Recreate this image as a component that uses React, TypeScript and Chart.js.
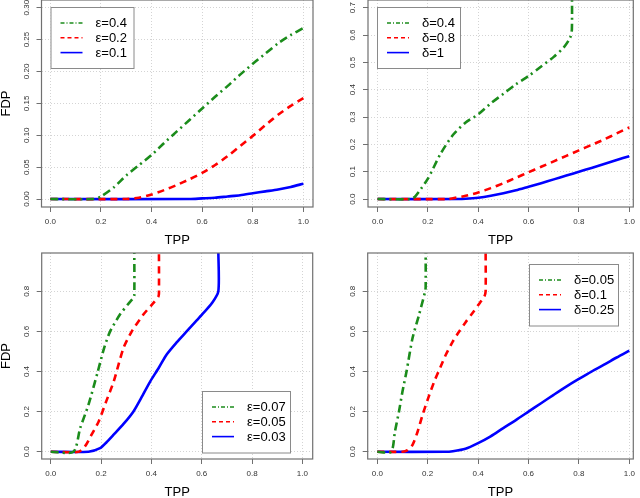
import { useEffect, useRef } from 'react'
import { Chart, registerables } from 'chart.js'
Chart.register(...registerables)

const GREEN = '#1b8c1b'
const RED = '#ff0000'
const BLUE = '#0000ff'
const COLORS = [GREEN, RED, BLUE]
const DASHES = [[8, 4, 2, 4], [7, 5], []]
const KEY_DASHES = [[4, 2, 1, 2], [4, 3], []]
const FONT = '"Liberation Sans", Arial, Helvetica, sans-serif'

const X_TICKS = [0, 0.2, 0.4, 0.6, 0.8, 1.0]
const X_TICK_LABELS = ['0.0', '0.2', '0.4', '0.6', '0.8', '1.0']

// panel 1: varying epsilon
const P1_Y_TICKS = [0, 0.05, 0.1, 0.15, 0.2, 0.25, 0.3]
const P1_Y_LABELS = ['0.00', '0.05', '0.10', '0.15', '0.20', '0.25', '0.30']
const P1_NAMES = ['ε=0.4', 'ε=0.2', 'ε=0.1']
const P1_A_X = [0, 0.17, 0.2, 0.25, 0.3, 0.35, 0.4, 0.45, 0.5, 0.55, 0.6, 0.65, 0.7, 0.75, 0.8, 0.85, 0.9, 0.95, 1.0]
const P1_A_Y = [0, 0, 0.004, 0.018, 0.037, 0.053, 0.069, 0.088, 0.106, 0.124, 0.142, 0.16, 0.177, 0.195, 0.212, 0.228, 0.244, 0.257, 0.268]
const P1_B_X = [0, 0.3, 0.35, 0.4, 0.45, 0.5, 0.55, 0.6, 0.65, 0.7, 0.75, 0.8, 0.85, 0.9, 0.95, 1.0]
const P1_B_Y = [0, 0, 0.002, 0.007, 0.014, 0.022, 0.031, 0.041, 0.053, 0.067, 0.083, 0.099, 0.116, 0.132, 0.146, 0.158]
const P1_C_X = [0, 0.55, 0.6, 0.65, 0.7, 0.75, 0.8, 0.85, 0.9, 0.95, 1.0]
const P1_C_Y = [0, 0, 0.001, 0.002, 0.004, 0.006, 0.009, 0.012, 0.015, 0.019, 0.024]

// panel 2: varying delta
const P2_Y_TICKS = [0, 0.1, 0.2, 0.3, 0.4, 0.5, 0.6, 0.7]
const P2_Y_LABELS = ['0.0', '0.1', '0.2', '0.3', '0.4', '0.5', '0.6', '0.7']
const P2_NAMES = ['δ=0.4', 'δ=0.8', 'δ=1']
const P2_A_X = [0, 0.13, 0.15, 0.2, 0.25, 0.3, 0.35, 0.4, 0.45, 0.5, 0.55, 0.6, 0.65, 0.7, 0.74, 0.765, 0.772, 0.772]
const P2_A_Y = [0, 0, 0.01, 0.075, 0.165, 0.235, 0.28, 0.31, 0.35, 0.385, 0.42, 0.45, 0.485, 0.52, 0.555, 0.59, 0.62, 0.8]
const P2_B_X = [0, 0.28, 0.3, 0.35, 0.4, 0.45, 0.5, 0.55, 0.6, 0.65, 0.7, 0.75, 0.8, 0.85, 0.9, 0.95, 1.0]
const P2_B_Y = [0, 0, 0.003, 0.012, 0.024, 0.04, 0.058, 0.078, 0.098, 0.118, 0.138, 0.158, 0.178, 0.198, 0.218, 0.24, 0.262]
const P2_C_X = [0, 0.32, 0.35, 0.4, 0.45, 0.5, 0.55, 0.6, 0.65, 0.7, 0.75, 0.8, 0.85, 0.9, 0.95, 1.0]
const P2_C_Y = [0, 0, 0.001, 0.005, 0.012, 0.021, 0.032, 0.045, 0.058, 0.072, 0.086, 0.1, 0.114, 0.128, 0.143, 0.157]

// panel 3: small epsilon
const P34_Y_TICKS = [0, 0.2, 0.4, 0.6, 0.8]
const P34_Y_LABELS = ['0.0', '0.2', '0.4', '0.6', '0.8']
const P3_NAMES = ['ε=0.07', 'ε=0.05', 'ε=0.03']
const P3_A_X = [0, 0.09, 0.117, 0.15, 0.187, 0.212, 0.236, 0.275, 0.31, 0.328, 0.332, 0.332]
const P3_A_Y = [0, 0, 0.118, 0.235, 0.4, 0.517, 0.6, 0.684, 0.74, 0.767, 0.78, 1.0]
const P3_B_X = [0, 0.11, 0.136, 0.16, 0.19, 0.22, 0.25, 0.289, 0.322, 0.368, 0.41, 0.428, 0.43, 0.43]
const P3_B_Y = [0, 0, 0.027, 0.08, 0.15, 0.25, 0.35, 0.517, 0.6, 0.684, 0.745, 0.775, 0.79, 1.0]
const P3_C_X = [0, 0.15, 0.196, 0.22, 0.25, 0.29, 0.328, 0.36, 0.395, 0.43, 0.46, 0.5, 0.54, 0.58, 0.607, 0.64, 0.666, 0.666]
const P3_C_Y = [0, 0, 0.018, 0.045, 0.085, 0.14, 0.2, 0.27, 0.35, 0.42, 0.484, 0.545, 0.6, 0.655, 0.692, 0.74, 0.8, 1.0]

// panel 4: small delta
const P4_NAMES = ['δ=0.05', 'δ=0.1', 'δ=0.25']
const P4_A_X = [0, 0.055, 0.07, 0.086, 0.1, 0.116, 0.14, 0.166, 0.19, 0.192, 0.192]
const P4_A_Y = [0, 0, 0.1, 0.2, 0.3, 0.4, 0.567, 0.684, 0.8, 0.82, 1.0]
const P4_B_X = [0, 0.1, 0.12, 0.14, 0.16, 0.18, 0.2, 0.226, 0.25, 0.272, 0.3, 0.325, 0.35, 0.378, 0.4, 0.425, 0.43, 0.43]
const P4_B_Y = [0, 0, 0.008, 0.035, 0.1, 0.185, 0.26, 0.35, 0.42, 0.484, 0.55, 0.6, 0.645, 0.692, 0.73, 0.775, 0.8, 1.0]
const P4_C_X = [0, 0.27, 0.3, 0.35, 0.4, 0.45, 0.5, 0.55, 0.6, 0.65, 0.7, 0.75, 0.8, 0.85, 0.9, 0.95, 1.0]
const P4_C_Y = [0, 0, 0.003, 0.015, 0.043, 0.077, 0.118, 0.158, 0.2, 0.242, 0.284, 0.325, 0.363, 0.4, 0.434, 0.47, 0.504]

interface Box { x: number; y: number; w: number; h: number }
interface PanelProps {
    left: number; top: number
    area: { l: number; t: number; r: number; b: number }
    xRange: [number, number]
    yRange: [number, number]
    yTicks: number[]
    yLabels: string[]
    names: string[]
    xs: number[][]
    ys: number[][]
    legend: Box
    yTitle?: boolean
}

const W = 320, H = 249

const rFrame = {
    id: 'rFrame',
    afterDatasetsDraw(chart: any, _a: any, opts: any) {
        const { ctx, chartArea: a, scales } = chart
        ctx.save()
        ctx.strokeStyle = '#707070'
        ctx.lineWidth = 1.2
        ctx.setLineDash([])
        ctx.strokeRect(a.left, a.top, a.right - a.left, a.bottom - a.top)

        ctx.fillStyle = '#333'
        ctx.font = `8px ${FONT}`
        ctx.textAlign = 'center'
        ctx.textBaseline = 'middle'
        scales.x.ticks.forEach((t: any, i: number) => {
            ctx.fillText(X_TICK_LABELS[i], scales.x.getPixelForValue(t.value), a.bottom + 15)
        })
        scales.y.ticks.forEach((t: any, i: number) => {
            ctx.save()
            ctx.translate(a.left - 15, scales.y.getPixelForValue(t.value))
            ctx.rotate(-Math.PI / 2)
            ctx.fillText(opts.yLabels[i], 0, 0)
            ctx.restore()
        })

        ctx.fillStyle = '#000'
        ctx.font = `13px ${FONT}`
        ctx.fillText('TPP', (a.left + a.right) / 2, a.bottom + 33)
        if (opts.yTitle) {
            ctx.save()
            ctx.translate(6, (a.top + a.bottom) / 2)
            ctx.rotate(-Math.PI / 2)
            ctx.fillText('FDP', 0, 0)
            ctx.restore()
        }

        const L: Box = opts.legend
        ctx.fillStyle = '#fff'
        ctx.fillRect(L.x, L.y, L.w, L.h)
        ctx.strokeStyle = '#8a8a8a'
        ctx.lineWidth = 1
        ctx.strokeRect(L.x + 0.5, L.y + 0.5, L.w, L.h)
        chart.data.datasets.forEach((ds: any, i: number) => {
            const ry = L.y + 16 + i * 14.8
            ctx.strokeStyle = ds.borderColor
            ctx.lineWidth = 1.6
            ctx.setLineDash(KEY_DASHES[i])
            ctx.beginPath()
            ctx.moveTo(L.x + 10, ry)
            ctx.lineTo(L.x + 32, ry)
            ctx.stroke()
            ctx.setLineDash([])
            ctx.fillStyle = '#000'
            ctx.textAlign = 'left'
            ctx.fillText(ds.label, L.x + 45, ry + 0.5)
        })
        ctx.restore()
    },
}

function Panel(p: PanelProps) {
    const canvasRef = useRef<HTMLCanvasElement>(null)
    const chartRef = useRef<Chart | null>(null)

    useEffect(() => {
        if (!canvasRef.current) return
        chartRef.current?.destroy()
        chartRef.current = new Chart(canvasRef.current, {
            type: 'line',
            plugins: [rFrame],
            data: {
                datasets: p.names.map((name, i) => ({
                    label: name,
                    data: p.xs[i].map((x, j) => ({ x, y: p.ys[i][j] })),
                    borderColor: COLORS[i],
                    borderDash: DASHES[i],
                    borderWidth: 2.6,
                    borderCapStyle: 'butt' as const,
                    pointRadius: 0,
                    tension: 0.25,
                    fill: false,
                })),
            },
            options: {
                responsive: false,
                animation: false,
                events: [],
                layout: { padding: { left: 0, top: p.area.t, right: W - p.area.r, bottom: 0 } },
                plugins: {
                    legend: { display: false },
                    tooltip: { enabled: false },
                    rFrame: { yLabels: p.yLabels, legend: p.legend, yTitle: !!p.yTitle },
                } as any,
                scales: {
                    x: {
                        type: 'linear',
                        min: p.xRange[0], max: p.xRange[1],
                        afterBuildTicks: (s: any) => { s.ticks = X_TICKS.map(v => ({ value: v })) },
                        afterFit: (s: any) => { s.height = H - p.area.b },
                        ticks: { display: false },
                        grid: { color: '#d4d4d4', lineWidth: 1, tickLength: 5, tickColor: '#707070', tickWidth: 1, tickBorderDash: [] },
                        border: { display: false, dash: [1, 2] },
                    },
                    y: {
                        type: 'linear',
                        min: p.yRange[0], max: p.yRange[1],
                        afterBuildTicks: (s: any) => { s.ticks = p.yTicks.map(v => ({ value: v })) },
                        afterFit: (s: any) => { s.width = p.area.l },
                        ticks: { display: false },
                        grid: { color: '#d4d4d4', lineWidth: 1, tickLength: 5, tickColor: '#707070', tickWidth: 1, tickBorderDash: [] },
                        border: { display: false, dash: [1, 2] },
                    },
                },
            },
        })
        return () => { chartRef.current?.destroy(); chartRef.current = null }
    }, [])

    return (
        <div style={{ position: 'absolute', left: p.left, top: p.top, width: W, height: H }}>
            <canvas ref={canvasRef} width={W} height={H} style={{ width: W, height: H }} />
        </div>
    )
}

export default function App() {
    return (
        <div style={{ position: 'absolute', left: 0, top: 0, width: 640, height: 498, background: '#fff', overflow: 'hidden' }}>
            <Panel
                left={0} top={0}
                area={{ l: 41.5, t: 0, r: 313, b: 207 }}
                xRange={[-0.035, 1.038]} yRange={[-0.0125, 0.312]}
                yTicks={P1_Y_TICKS} yLabels={P1_Y_LABELS} names={P1_NAMES}
                xs={[P1_A_X, P1_B_X, P1_C_X]} ys={[P1_A_Y, P1_B_Y, P1_C_Y]}
                legend={{ x: 50.5, y: 7, w: 83, h: 61 }}
                yTitle
            />
            <Panel
                left={320} top={0}
                area={{ l: 48, t: 0, r: 313.3, b: 207 }}
                xRange={[-0.038, 1.016]} yRange={[-0.029, 0.728]}
                yTicks={P2_Y_TICKS} yLabels={P2_Y_LABELS} names={P2_NAMES}
                xs={[P2_A_X, P2_B_X, P2_C_X]} ys={[P2_A_Y, P2_B_Y, P2_C_Y]}
                legend={{ x: 57, y: 7, w: 83, h: 61 }}
            />
            <Panel
                left={0} top={249}
                area={{ l: 41.7, t: 4, r: 312.7, b: 210 }}
                xRange={[-0.036, 1.041]} yRange={[-0.036, 0.991]}
                yTicks={P34_Y_TICKS} yLabels={P34_Y_LABELS} names={P3_NAMES}
                xs={[P3_A_X, P3_B_X, P3_C_X]} ys={[P3_A_Y, P3_B_Y, P3_C_Y]}
                legend={{ x: 202, y: 142, w: 88, h: 61.5 }}
                yTitle
            />
            <Panel
                left={320} top={249}
                area={{ l: 47.7, t: 4, r: 313.3, b: 210 }}
                xRange={[-0.038, 1.016]} yRange={[-0.036, 0.991]}
                yTicks={P34_Y_TICKS} yLabels={P34_Y_LABELS} names={P4_NAMES}
                xs={[P4_A_X, P4_B_X, P4_C_X]} ys={[P4_A_Y, P4_B_Y, P4_C_Y]}
                legend={{ x: 209, y: 15, w: 89, h: 61.5 }}
            />
        </div>
    )
}
